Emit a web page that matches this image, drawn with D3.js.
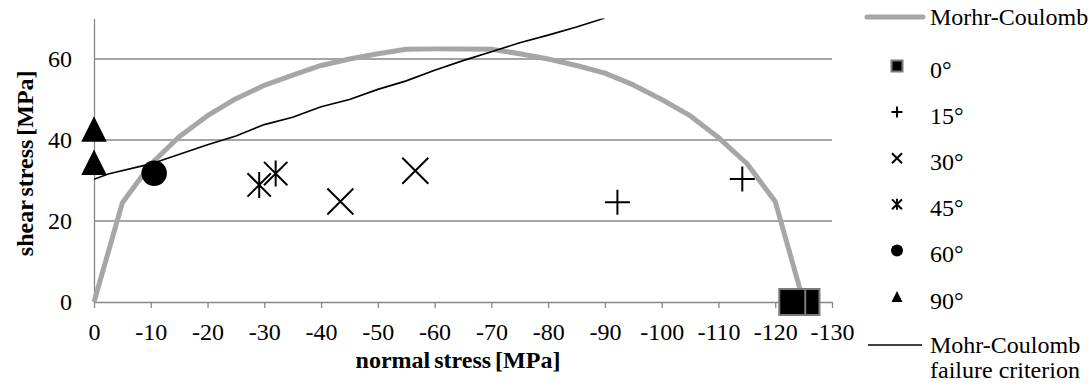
<!DOCTYPE html>
<html>
<head>
<meta charset="utf-8">
<script src="https://cdn.jsdelivr.net/npm/d3@7"></script>
<style>
  body { margin: 0; background: #fff; }
  svg { display: block; }
  svg text { font-family: "Liberation Serif", "Times New Roman", serif; }
</style>
</head>
<body>
<svg width="1090" height="385"></svg>
<script>
// Mohr circle (thick grey curve)
const mcSigma = [0, -5, -10, -15, -20, -25, -30, -35, -40, -45, -50, -55, -60, -65, -70, -75, -80, -85, -90, -95, -100, -105, -110, -115, -120, -125]
const mcTau = [0, 24.5, 34, 40.8, 46, 50.2, 53.5, 56, 58.4, 60, 61.3, 62.4, 62.5, 62.5, 62.4, 61.3, 60, 58.4, 56.5, 53.6, 50, 46, 40.6, 34.2, 24.8, 0]

// failure criterion (thin black line)
const fcSigma = [0, -2.5, -10, -20, -25, -30, -35, -40, -45, -50, -55, -60, -65, -70, -75, -80, -85, -90]
const fcTau = [30.3, 31.6, 34.1, 38.8, 41, 43.8, 45.6, 48.2, 50, 52.5, 54.6, 57.2, 59.6, 61.8, 64, 65.9, 67.9, 70.1]

// measured points per angle
const angles = ['0°', '15°', '30°', '45°', '60°', '90°']
const pointSigma = [
  [-125.5, -123],
  [-92.2, -114.2],
  [-43.4, -56.6],
  [-29.1, -32],
  [-10.6],
  [0, 0]
]
const pointTau = [
  [0, 0],
  [24.6, 30.4],
  [24.8, 32.4],
  [28.9, 31.7],
  [31.8],
  [34.5, 42.7]
]
const markerTypes = ['square', 'plus', 'times', 'asterisk', 'circle', 'triangle']

const xTicks = [0, -10, -20, -30, -40, -50, -60, -70, -80, -90, -100, -110, -120, -130]
const yTicks = [0, 20, 40, 60]

const plot = {left: 94, right: 832, top: 18.5, bottom: 302}
const fontFamily = '"Liberation Serif", "Times New Roman", serif'
const fontSize = 24

const x = d3.scaleLinear().domain([0, -130]).range([plot.left, plot.right])
const y = d3.scaleLinear().domain([0, 70]).range([plot.bottom, plot.top])

const svg = d3.select('svg').attr('font-family', fontFamily)
const grey = '#878787'

// marker shapes, s = size in px
function markerPath(type, s) {
  const h = s / 2
  const p = d3.path()
  if (type === 'square') {
    p.rect(-h, -h, s, s)
  } else if (type === 'plus') {
    p.moveTo(-h, 0); p.lineTo(h, 0)
    p.moveTo(0, -h); p.lineTo(0, h)
  } else if (type === 'times') {
    p.moveTo(-h, -h); p.lineTo(h, h)
    p.moveTo(-h, h); p.lineTo(h, -h)
  } else if (type === 'asterisk') {
    const d = h * 0.9
    p.moveTo(-d, -d); p.lineTo(d, d)
    p.moveTo(-d, d); p.lineTo(d, -d)
    p.moveTo(0, -h); p.lineTo(0, h)
  } else if (type === 'circle') {
    p.arc(0, 0, h, 0, Math.PI * 2)
  } else if (type === 'triangle') {
    p.moveTo(0, -h); p.lineTo(h, h); p.lineTo(-h, h); p.closePath()
  }
  return p.toString()
}

function styleMarker(sel, type) {
  if (type === 'square') {
    sel.attr('fill', '#000').attr('stroke', '#7a7a7a').attr('stroke-width', 2)
  } else if (type === 'circle' || type === 'triangle') {
    sel.attr('fill', '#000').attr('stroke', 'none')
  } else {
    sel.attr('fill', 'none').attr('stroke', '#000').attr('stroke-width', 2)
  }
}

// gridlines
svg.append('g')
  .selectAll('line')
  .data(yTicks.filter(d => d > 0))
  .join('line')
  .attr('x1', plot.left).attr('x2', plot.right)
  .attr('y1', d => y(d)).attr('y2', d => y(d))
  .attr('stroke', grey).attr('stroke-width', 1.3)

// axes
const xAxis = g => g
  .attr('transform', `translate(0, ${plot.bottom})`)
  .call(d3.axisBottom(x).tickValues(xTicks).tickFormat(d => String(d))
    .tickSizeInner(6).tickSizeOuter(0).tickPadding(15))
  .call(g => g.select('.domain').attr('stroke', grey).attr('stroke-width', 1.3))
  .call(g => g.selectAll('.tick line').attr('stroke', grey).attr('stroke-width', 1.3))

const yAxis = g => g
  .attr('transform', `translate(${plot.left}, 0)`)
  .call(d3.axisLeft(y).tickValues(yTicks).tickFormat(d => String(d)).tickSize(0).tickPadding(22))
  .call(g => g.select('.domain').attr('stroke', grey).attr('stroke-width', 1.3))

svg.append('g').attr('class', 'x-axis').call(xAxis)
svg.append('g').attr('class', 'y-axis').call(yAxis)
svg.selectAll('.x-axis, .y-axis')
  .attr('font-family', fontFamily)
  .attr('font-size', fontSize)
svg.selectAll('.tick text').attr('fill', '#000')

// axis titles
svg.append('text')
  .attr('x', (plot.left + plot.right) / 2 - 5)
  .attr('y', 368)
  .attr('text-anchor', 'middle')
  .attr('font-size', fontSize)
  .attr('font-weight', 'bold')
  .attr('word-spacing', -2)
  .text('normal stress [MPa]')

svg.append('text')
  .attr('transform', `translate(33, ${(plot.top + plot.bottom) / 2 + 3}) rotate(-90)`)
  .attr('text-anchor', 'middle')
  .attr('font-size', fontSize)
  .attr('font-weight', 'bold')
  .attr('word-spacing', -2)
  .text('shear stress [MPa]')

svg.append('clipPath').attr('id', 'clip')
  .append('rect')
  .attr('x', plot.left).attr('y', plot.top)
  .attr('width', plot.right - plot.left).attr('height', plot.bottom - plot.top)

const line = d3.line().x(d => x(d[0])).y(d => y(d[1]))

// Mohr circle
svg.append('path')
  .datum(mcSigma.map((s, i) => [s, mcTau[i]]))
  .attr('d', line)
  .attr('fill', 'none')
  .attr('stroke', '#a6a6a6')
  .attr('stroke-width', 5)
  .attr('stroke-linejoin', 'round')

// measured points
const sizes = {square: 26, plus: 25, times: 26, asterisk: 26, circle: 25.5, triangle: 25.5}
angles.forEach((a, k) => {
  const type = markerTypes[k]
  const pts = pointSigma[k].map((s, i) => [s, pointTau[k][i]])
  svg.append('g')
    .selectAll('path')
    .data(pts)
    .join('path')
    .attr('transform', d => `translate(${x(d[0])}, ${y(d[1])})`)
    .attr('d', markerPath(type, sizes[type]))
    .call(sel => styleMarker(sel, type))
})

// failure criterion
svg.append('path')
  .datum(fcSigma.map((s, i) => [s, fcTau[i]]))
  .attr('clip-path', 'url(#clip)')
  .attr('d', line)
  .attr('fill', 'none')
  .attr('stroke', '#000')
  .attr('stroke-width', 1.6)

// legend
const legend = svg.append('g').attr('font-size', fontSize).attr('font-family', fontFamily)
legend.append('line')
  .attr('x1', 867).attr('x2', 923).attr('y1', 17).attr('y2', 17)
  .attr('stroke', '#a6a6a6').attr('stroke-width', 5).attr('stroke-linecap', 'round')
legend.append('text').attr('x', 930).attr('y', 25).text('Morhr-Coulomb')

const legendSizes = {square: 11, plus: 11, times: 10, asterisk: 11, circle: 12, triangle: 11}
angles.forEach((a, k) => {
  const type = markerTypes[k]
  const yy = 66 + k * 46.1
  legend.append('path')
    .attr('transform', `translate(897, ${yy})`)
    .attr('d', markerPath(type, legendSizes[type]))
    .call(sel => styleMarker(sel, type))
  legend.append('text').attr('x', 930).attr('y', yy + 12).text(a)
})

legend.append('line')
  .attr('x1', 868).attr('x2', 922).attr('y1', 345).attr('y2', 345)
  .attr('stroke', '#000').attr('stroke-width', 1.6)
legend.append('text').attr('x', 930).attr('y', 353).text('Mohr-Coulomb')
legend.append('text').attr('x', 930).attr('y', 378).text('failure criterion')
</script>
</body>
</html>
